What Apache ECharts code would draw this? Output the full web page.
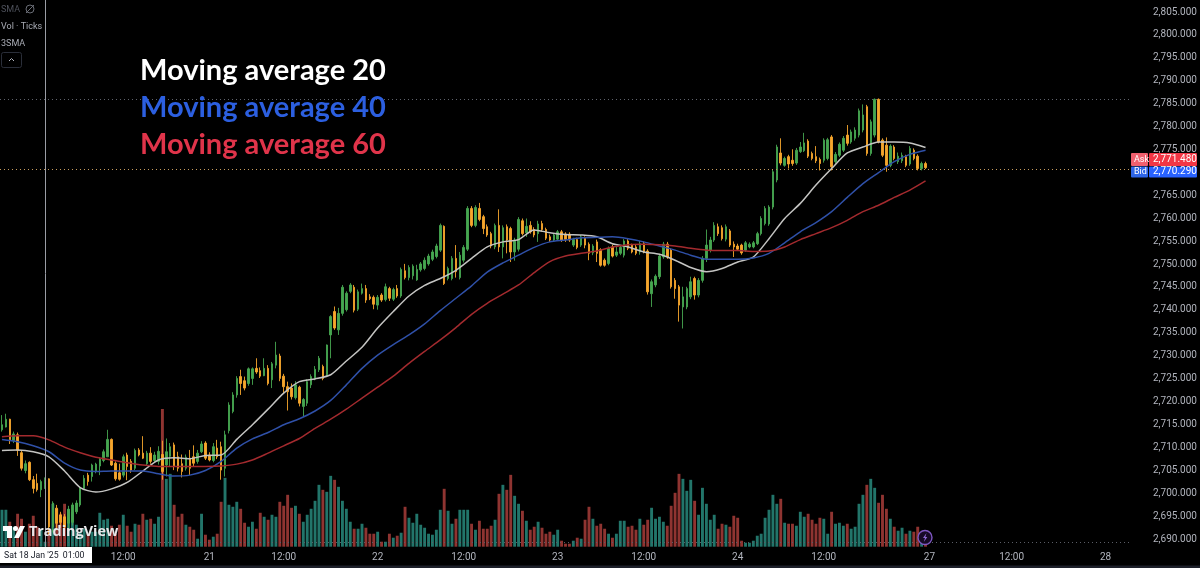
<!DOCTYPE html>
<html><head><meta charset="utf-8">
<style>html,body{margin:0;padding:0;background:#000}#c{width:1200px;height:568px}</style>
<script src="https://cdn.jsdelivr.net/npm/echarts@6/dist/echarts.min.js"></script>
</head><body><div id="c"></div>
<script>
const opens=[2713.4,2714,2715.7,2711,2712.3,2708.4,2704.5,2706.3,2702.5,2701.7,
2700.3,2701.4,2702.7,2692.2,2696.3,2694.8,2694.4,2693,2693.2,2695.5,
2697,2700.6,2703.5,2703.2,2704.3,2705.5,2706.7,2707.5,2711.3,2706.1,
2704,2703.5,2707.9,2706.5,2705,2709,2708.3,2706,2708.3,2706.7,
2706.5,2708,2705.7,2707.6,2710.1,2707.5,2706,2705,2707.2,2707.5,
2706.5,2708.6,2710.5,2707.9,2706.7,2709.4,2709.7,2705,2713.2,2717.4,
2721,2725,2724.1,2723.5,2724.6,2726.8,2726.3,2725.2,2726.8,2724.3,
2727.5,2729.5,2725.1,2722.8,2722.5,2720.4,2722.7,2718.5,2719.2,2723.2,
2724.6,2726.5,2727.2,2725.4,2734.1,2739.2,2735.2,2738.8,2739.6,2743.6,
2744.5,2739.7,2743.2,2744.2,2742.4,2742.3,2740.6,2742.8,2741.8,2744.2,
2741.9,2744.2,2742.6,2748.1,2746.6,2747,2746.1,2748.3,2748.6,2749.6,
2750.6,2751.2,2752.6,2757.8,2746.4,2746.4,2750.8,2746.6,2750.4,2752.8,
2761.7,2758,2761.7,2759.9,2757.7,2756.2,2753.3,2758,2753.3,2757.7,
2757.3,2752.2,2752.8,2759,2756.4,2758,2757.1,2756.2,2758.4,2757.1,
2755.5,2754.8,2755,2756.6,2756.1,2756.1,2753.7,2754.9,2753.7,2755.2,
2753.9,2752,2754.4,2752.7,2750.4,2749.7,2753.3,2751.5,2751.9,2751.5,
2754.6,2753.7,2753.3,2752.2,2754,2752.4,2743.1,2745,2746.8,2751.1,
2753.9,2752.6,2746,2744.6,2740.2,2740.2,2742.4,2746.4,2742.8,2746,
2750.8,2752.6,2754.8,2757.7,2757.5,2755,2756.8,2753.9,2753.5,2753.7,
2752.6,2753.3,2753.3,2754,2756.2,2758.4,2758.3,2762,2767.9,2773.8,
2771.1,2773,2772.2,2771.6,2774.1,2774.3,2776.4,2773.7,2773,2772.4,
2772.2,2772.6,2777.3,2771.9,2773.3,2774.4,2777.7,2776.2,2777,2777.7,
2778.8,2783.9,2773.7,2777.7,2785.5,2776.6,2775.5,2771.1,2775.1,2771.9,
2772.1,2773,2771.4,2774.4,2773.1,2770.4,2771.5];
const closes=[2714.5,2715.7,2711.2,2712.5,2708.9,2705,2706,2702.5,2700.6,2700.3,
2702.1,2702.6,2692.2,2697.4,2693,2693.2,2692.2,2696,2697,2697.4,
2700.7,2702.8,2702.1,2705.7,2705.9,2707,2708.6,2711.3,2705.7,2702.7,
2702.6,2707.5,2705.4,2704.6,2708.9,2707.9,2707.2,2708.3,2706.5,2707.9,
2708.7,2704.3,2708.6,2709.7,2705.5,2705,2704.3,2707.4,2705,2706.1,
2708.3,2710.3,2707.2,2706.8,2709.7,2707.5,2704.6,2712.3,2718.8,2721,
2724.6,2723.5,2722.5,2726.7,2726.7,2726,2725.1,2726.8,2723.5,2727.8,
2729.7,2724.6,2722.8,2721.7,2720.6,2723.2,2719.2,2720,2723.9,2725,
2726.6,2729,2724.6,2731.9,2738.1,2735.6,2738.8,2744.5,2743.2,2745,
2739.5,2743.5,2744.2,2741.7,2742,2740.8,2742.3,2741.7,2744.6,2742.1,
2744,2742.6,2748.4,2746.6,2748.8,2749.1,2748.4,2749.6,2750.4,2751.3,
2752.2,2753.5,2758,2745.3,2748.6,2750.8,2747.9,2751.5,2753.2,2761.7,
2758,2761.9,2759.3,2757.3,2755.9,2753.5,2758,2753.3,2757.5,2754.8,
2752.2,2754.8,2759.3,2756.2,2757.8,2756.6,2755.9,2758.3,2757.1,2755.2,
2754.8,2755.9,2756.6,2754.8,2754.9,2754.8,2754.9,2753.2,2755.5,2753.7,
2751.9,2753.5,2751.9,2749.3,2749.3,2753,2751.3,2752.2,2753.2,2754.6,
2753,2752.2,2751.9,2754,2752.2,2743.5,2745.7,2746.9,2751.3,2753.9,
2751.1,2744.6,2744.2,2740.6,2742.4,2744.2,2745.7,2742.8,2746,2750.8,
2753.7,2754.8,2758,2756.2,2755.1,2757.7,2753.7,2753.3,2752.8,2752,
2754.2,2753.9,2754.2,2756.2,2759.5,2761.7,2762,2769.7,2775.1,2771.6,
2772.6,2771.4,2771.5,2774.4,2775.1,2776,2773.1,2772.6,2772.1,2771.5,
2776.6,2776.7,2770.8,2773.5,2775.7,2777,2775.9,2778.4,2778.8,2783,
2782.1,2773.7,2780.6,2785.5,2776.2,2773.3,2771.1,2775.3,2772.6,2773.1,
2773.3,2771.1,2774.8,2772.6,2770.4,2771.5,2770.6];
const lows=[2713,2713.9,2710.3,2710.5,2707.7,2704.5,2703.9,2702.2,2699.5,2699.9,
2698.7,2700.5,2690.5,2691,2691.5,2692,2691,2691.8,2692.5,2695,
2696.6,2700.4,2701.2,2702.1,2703.9,2703.5,2706.3,2707.5,2705.5,2702.3,
2702.3,2703,2702.4,2704,2704.6,2707.6,2707,2705.7,2706,2706.3,
2705.8,2702.5,2703.2,2705.4,2704.6,2704.3,2703,2704.5,2703.5,2705.3,
2706,2708.3,2706.8,2706.5,2706.3,2707,2702.5,2703.2,2712.6,2717,
2720.4,2721,2722,2723,2723.2,2725.6,2724.7,2725.1,2723.1,2722.5,
2726.8,2724,2721.4,2717.6,2720,2720,2718.5,2716.3,2718.6,2722.5,
2724.2,2726,2724.2,2724.9,2729,2735.2,2734.1,2738.3,2739.2,2743.2,
2739,2739.3,2742.9,2741.1,2741.7,2739.7,2739.6,2741.3,2741.4,2741.5,
2741.5,2742.2,2742.2,2746.2,2746,2746.2,2745.9,2747.9,2748.2,2749.2,
2750.2,2750.8,2752.2,2745,2746,2746,2746.6,2746.2,2749.9,2752.4,
2757.6,2757.6,2758.9,2756.1,2755.5,2753,2752.8,2752.2,2750.8,2751.9,
2750,2750.3,2752.3,2755.8,2755.5,2756.2,2755.4,2754.4,2756.7,2754.8,
2754.4,2754.4,2754.6,2754.4,2754.4,2754.4,2753.3,2752.8,2753.3,2753,
2750.4,2751.5,2750,2749,2749,2749.3,2751,2751.1,2751.5,2751,
2752.6,2751.9,2751.5,2751.6,2751.9,2742.9,2740.2,2744.5,2746.3,2750.7,
2750.7,2744.2,2742,2737,2735.5,2739.7,2741.9,2741.8,2742.3,2745.5,
2750,2752.1,2754.4,2755.7,2754.7,2754.5,2753.3,2751.1,2752.4,2751.6,
2752.2,2753,2753,2753.7,2755.8,2758,2757.9,2761.5,2767.4,2771.1,
2770.8,2770.4,2771,2771.2,2773.8,2774,2772.7,2772.2,2771.6,2770,
2771.7,2772.2,2770,2771.5,2772.9,2774,2775.4,2775.8,2776.5,2777.2,
2778.3,2773.2,2773.2,2777.2,2775.9,2772.9,2769.7,2770.7,2772.2,2771.4,
2771.6,2770.7,2771,2772.2,2770,2770,2770.3];
const highs=[2716.6,2716.9,2715.8,2713,2712.8,2708.8,2706.7,2706.5,2703.3,2703.8,
2702.5,2703,2702.8,2697.8,2697,2695.5,2695,2696.8,2697.5,2698,
2701,2703.5,2704,2706,2706.2,2707.4,2709.1,2713.4,2711.5,2706.5,
2706,2708,2708.4,2707,2709.3,2709.4,2712,2708.8,2709.6,2708.6,
2709.8,2711,2711.5,2710.5,2710.6,2708.6,2708,2708,2709,2710,
2709,2710.9,2710.9,2708.5,2710.5,2711.2,2710.8,2713.2,2719.4,2721.6,
2725.1,2726.5,2725,2727,2727,2729,2727,2729,2727.5,2728.2,
2732.6,2730,2725.6,2723.9,2723.5,2724,2723,2720.3,2724.4,2725.5,
2727.3,2729.5,2727.6,2732,2738.4,2740.3,2740,2745,2743.6,2745.4,
2745,2744,2745.3,2745,2743,2742.7,2742.8,2743.2,2745.3,2744.6,
2744.4,2745,2748.8,2749.6,2749.3,2749.5,2749.4,2750,2751,2751.8,
2752.7,2754,2758.4,2758,2749,2751.3,2753.7,2752.2,2753.7,2762.2,
2762.2,2762.4,2762.9,2760.3,2758.2,2756.6,2758.4,2761.5,2758,2758.2,
2757.7,2755.3,2759.8,2759.5,2759.5,2758.9,2757.6,2759,2759,2757.5,
2756,2756.3,2757,2757,2756.5,2756.5,2755.3,2755.3,2755.9,2755.6,
2754.3,2753.9,2754.9,2753,2750.8,2753.4,2753.8,2753.5,2753.6,2755,
2755,2754,2753.8,2754.6,2754.5,2752.8,2746.2,2747.3,2751.8,2754.4,
2754.4,2753,2746.5,2745,2744.6,2744.6,2746.8,2746.8,2746.5,2751.3,
2757.1,2755.5,2758.7,2758.4,2758,2758.2,2757.2,2754.5,2754,2754,
2754.6,2754.3,2754.6,2756.6,2760,2762.2,2762.4,2770.3,2775.6,2777,
2773,2773.4,2774.6,2774.9,2776.2,2778.2,2776.8,2774.1,2775.3,2772.8,
2777,2777.1,2777.7,2774,2776.1,2777.5,2779.9,2778.9,2779.4,2783.5,
2784.4,2784.3,2781.1,2785.7,2785.7,2777,2777.2,2775.7,2775.5,2773.9,
2773.9,2773.4,2775.3,2774.8,2773.5,2771.9,2771.9];
const volumes=[37,37,25,20,33,28,15,23,31,20,
18,5,18,43,38,33,43,38,35,22,
15,18,13,15,15,34,27,28,21,13,
22,32,21,15,23,22,33,27,28,23,
30,138,68,73,42,30,33,22,20,17,
8,33,12,7,10,13,45,69,42,40,
45,38,24,20,25,18,34,30,27,32,
30,45,41,52,39,41,33,25,32,38,
46,62,57,55,71,67,60,46,38,25,
18,18,23,19,13,13,15,5,5,13,
9,11,14,40,29,24,33,22,19,13,
12,17,37,58,36,23,28,37,37,37,
23,17,26,18,18,21,27,53,62,57,
72,51,43,36,26,17,20,25,19,13,
15,12,17,6,3,3,6,9,8,27,
40,28,21,23,18,13,9,13,26,26,
20,21,17,28,22,27,39,28,30,25,
21,41,54,73,68,56,67,46,32,59,
43,27,32,18,23,22,20,31,29,6,
4,4,6,11,13,29,37,52,43,48,
24,23,23,21,35,30,33,27,23,29,
28,13,35,23,24,21,23,18,20,43,
52,62,68,59,44,52,38,28,20,16,
19,13,16,15,20,10,8];
const maBars=[0,4,8,12,16,20,24,28,32,36,40,44,48,52,56,60,64,68,72,76,80,84,88,92,96,100,104,108,112,116,120,124,128,132,136,140,144,148,152,156,160,164,168,172,176,180,184,188,192,196,200,204,208,212,216,220,224,228,232,236];
const ma20=[2708.9,2709,2708.6,2707.5,2704.4,2700.8,2699.8,2700.5,2701.9,2704.4,2706.8,2707.3,2707.1,2707.8,2707.9,2711.3,2714.5,2717.9,2721.4,2723.9,2724.5,2725.4,2728.4,2731.4,2735.6,2739.2,2742.6,2744.9,2746.4,2748.2,2750.8,2753.3,2754.4,2754.9,2757,2756.4,2756,2755.9,2755.5,2754,2753.3,2752.2,2751.7,2750.4,2748.8,2747.9,2748.6,2750,2751.1,2755.1,2759.5,2762.8,2766.8,2770.4,2773.8,2775.1,2776.2,2776.2,2776,2775];
const ma40=[2711.3,2710.8,2709.9,2708.6,2706.1,2704.6,2704.3,2704.4,2704.4,2704.4,2703.8,2703.3,2703.5,2704.5,2706.5,2709.4,2711.4,2712.8,2714.5,2715.8,2717.5,2719.8,2723.2,2726.8,2729.7,2732,2734.1,2736.5,2739.4,2742.1,2744.8,2747.8,2749.8,2751.5,2753.2,2754.4,2754.8,2755.3,2755.4,2755.5,2755.1,2754.4,2753.5,2752.6,2751.5,2750.6,2750.6,2750.6,2750.9,2751.9,2754.2,2756.6,2758.6,2761,2764.1,2767.1,2769.5,2771.9,2773.5,2774.4];
const ma60=[2711.9,2712.1,2712.1,2711.2,2709.6,2708.4,2707.4,2706.8,2706.2,2705.7,2705.4,2705.4,2705.4,2705.4,2705.5,2705.9,2706.8,2708.3,2709.9,2711.5,2713.7,2715.7,2717.9,2720.3,2722.7,2725.1,2727.9,2730.5,2733,2735.7,2738.6,2741,2743,2745,2747.7,2750.1,2751.3,2751.9,2752.4,2753.3,2753.8,2753.9,2753.8,2753.5,2753,2752.6,2752.5,2752.5,2752.3,2752.4,2753.3,2754.9,2756.2,2757.5,2759.1,2761,2762.4,2764.1,2765.7,2767.7];
const tickBars=[31,53,72,96,118,142,164,188,210,237,258,282];
const tickLabels=['12:00','21','12:00','22','12:00','23','12:00','24','12:00','27','12:00','28'];
const legendNames=['Moving average 20','Moving average 40','Moving average 60'];
const horizontalLevels=[2785.6,2770.3];
const slotCount=289;

const categories=[];for(let i=0;i<slotCount;i++)categories.push(String(i));
const tickMap={};tickBars.forEach((b,k)=>tickMap[b]=tickLabels[k]);
const candleData=opens.map((o,i)=>[o,closes[i],lows[i],highs[i]]);
const volumeData=volumes.map((v,i)=>({value:v,itemStyle:{color:closes[i]>=opens[i]?'#22756a':'#8f3431'}}));
const line=(name,vals,color)=>({name,type:'line',xAxisIndex:0,yAxisIndex:0,data:maBars.map((b,k)=>[b,vals[k]]),
  smooth:0.25,showSymbol:false,symbol:'none',silent:true,z:5,lineStyle:{color,width:1.5}});
const T=(x,y,text,style)=>({type:'text',left:x,top:y,z:100,silent:true,style:Object.assign({text,fill:'#b2b5be',font:'10px Roboto'},style||{})});
const R=(x,y,w,h,fill,extra)=>({type:'rect',z:99,silent:true,shape:Object.assign({x,y,width:w,height:h},extra||{}),style:{fill}});

const chart=echarts.init(document.getElementById('c'),null,{renderer:'canvas'});
chart.setOption({
  animation:false,backgroundColor:'#000',tooltip:{show:false},
  grid:[{left:0,top:10,width:1131,height:527},{left:0,top:400,width:1131,height:146.7}],
  xAxis:[
    {type:'category',gridIndex:0,data:categories,show:false,boundaryGap:true},
    {type:'category',gridIndex:1,data:categories,boundaryGap:true,axisLine:{show:false},axisTick:{show:false},splitLine:{show:false},
     axisLabel:{show:true,interval:(i)=>tickMap[i]!==undefined,formatter:(v,i)=>tickMap[i]||'',color:'#b2b5be',fontFamily:'Roboto',fontSize:10,margin:6}}
  ],
  yAxis:[
    {type:'value',gridIndex:0,position:'right',min:2690,max:2805,interval:5,axisLine:{show:false},axisTick:{show:false},splitLine:{show:false},
     axisLabel:{margin:22,verticalAlign:'top',lineHeight:4,color:'#b2b5be',fontFamily:'Roboto',fontSize:10,formatter:v=>v.toLocaleString('en-US',{minimumFractionDigits:3,maximumFractionDigits:3})}},
    {type:'value',gridIndex:1,min:0,max:147,show:false}
  ],
  series:[
    {name:'Volume',type:'bar',xAxisIndex:1,yAxisIndex:1,data:volumeData,barWidth:2.9,silent:true,z:1,
     markLine:{silent:true,symbol:'none',label:{show:false},lineStyle:{type:[1,3],color:'#5a5d66',width:1},data:[{yAxis:4.5}]}},
    {name:'Price',type:'candlestick',xAxisIndex:0,yAxisIndex:0,data:candleData,barWidth:2,silent:true,z:3,
     itemStyle:{color:'#46a650',color0:'#f6a62d',borderColor:'#46a650',borderColor0:'#f6a62d',borderWidth:0.9},
     markLine:{silent:true,symbol:'none',label:{show:false},animation:false,data:[
       {yAxis:horizontalLevels[0],lineStyle:{type:[1,3],color:'#5f626b',width:1}},
       {yAxis:horizontalLevels[1],lineStyle:{type:[1,3],color:'#c79c5e',width:1}}]}},
    line('MA 20',ma20,'#c4c4c2'),
    line('MA 40',ma40,'#2f50a8'),
    line('MA 60',ma60,'#a32a2e')
  ],
  graphic:[
    {type:'line',z:90,silent:true,shape:{x1:45.5,y1:0,x2:45.5,y2:547},style:{stroke:'#9a9da5',lineWidth:1}},
    T(140,56,legendNames[0],{fill:'#ffffff',font:'bold 29px Lato'}),
    T(140,93,legendNames[1],{fill:'#2c5fe0',font:'bold 29px Lato'}),
    T(140,130,legendNames[2],{fill:'#e0344a',font:'bold 29px Lato'}),
    T(1,5,'SMA',{fill:'#4d505a',font:'9px Roboto'}),
    {type:'circle',z:99,silent:true,shape:{cx:30,cy:9,r:4},style:{fill:'none',stroke:'#6a6d76',lineWidth:1}},
    {type:'line',z:99,silent:true,shape:{x1:26,y1:13,x2:34,y2:5},style:{stroke:'#6a6d76',lineWidth:1}},
    T(1,22,'Vol · Ticks',{fill:'#a8abb4',font:'9px Roboto'}),
    T(1,39,'3SMA',{fill:'#a8abb4',font:'9px Roboto'}),
    {type:'rect',z:99,silent:true,shape:{x:1.5,y:52.5,width:20,height:15,r:2},style:{fill:'#000',stroke:'#2a2e39',lineWidth:1}},
    {type:'polyline',z:100,silent:true,shape:{points:[[9,61],[11.5,58.5],[14,61]]},style:{fill:'none',stroke:'#b2b5be',lineWidth:1}},
    R(1131,153,17,13,'#f0606e',{r:1}),R(1149,153,48,13,'#f23645',{r:1}),
    R(1131,166.5,17,11,'#2f66e8',{r:1}),R(1149,166.5,48,11,'#2962ff',{r:1}),
    T(1134,155,'Ask',{fill:'#fff',font:'9px Roboto'}),T(1153,154,'2,771.480',{fill:'#fff',font:'10px Roboto'}),
    T(1134,167,'Bid',{fill:'#fff',font:'9px Roboto'}),T(1153,166.5,'2,770.290',{fill:'#fff',font:'10px Roboto'}),
    R(0,547,92,16,'#ffffff'),
    T(4,551,"Sat 18 Jan '25  01:00",{fill:'#131722',font:'8.7px Roboto'}),
    R(0,565.5,1200,2.5,'#1c1f29'),
    {type:'polygon',z:100,silent:true,shape:{points:[[3,526],[12,526],[12,538],[7,538],[7,531],[3,531]]},style:{fill:'#fff'}},
    {type:'circle',z:100,silent:true,shape:{cx:15.5,cy:528.5,r:2.5},style:{fill:'#fff'}},
    {type:'polygon',z:100,silent:true,shape:{points:[[20,526],[25,526],[19,538],[14,538]]},style:{fill:'#fff'}},
    T(29,524.5,'TradingView',{fill:'#e8e8ea',font:'bold 14.4px "Open Sans"'}),
    {type:'circle',z:100,silent:true,shape:{cx:925,cy:537.5,r:7},style:{fill:'#160a26',stroke:'#7e57c2',lineWidth:1.4}},
    {type:'polygon',z:101,silent:true,shape:{points:[[926.5,533],[923,538],[925,538],[923.8,542],[927.3,537],[925.3,537]]},style:{fill:'#8e6ad6'}}
  ]
});
</script></body></html>
